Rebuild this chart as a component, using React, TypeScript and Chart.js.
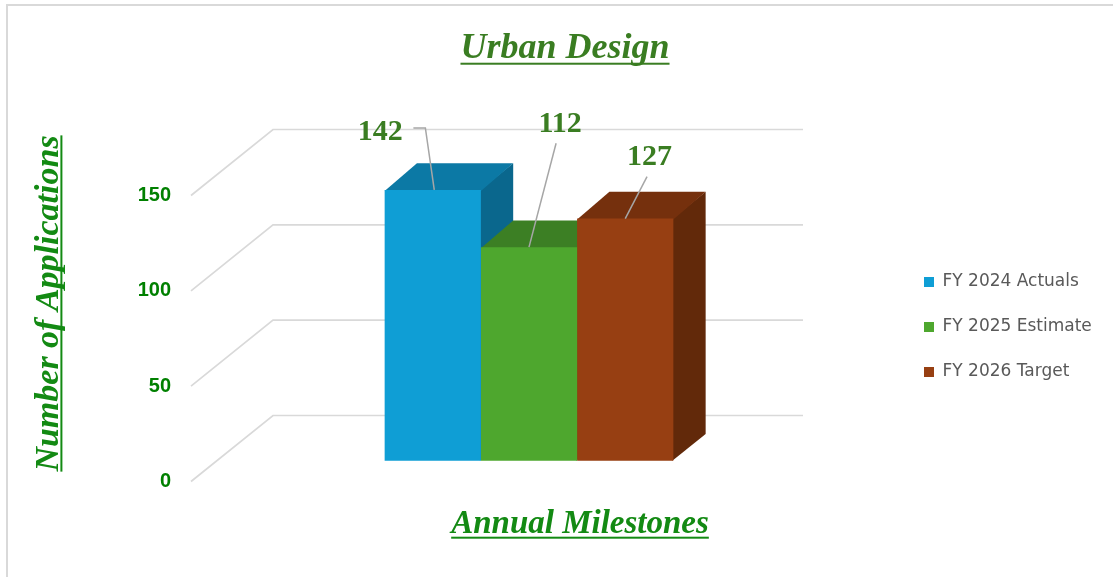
import React, { useEffect, useRef } from 'react';
import { Chart, registerables } from 'chart.js';

Chart.register(...registerables);

// ---------------- data ----------------
const categories = ['Urban Design'];
const seriesLabels = ['FY 2024 Actuals', 'FY 2025 Estimate', 'FY 2026 Target'];
const seriesValues = [142, 112, 127];
const yTickValues = [0, 50, 100, 150];
const chartTitle = 'Urban Design';
const xAxisTitle = 'Annual Milestones';
const yAxisTitle = 'Number of Applications';

// ---------------- styles ----------------
const frontColors = ['#0F9ED5', '#4EA72E', '#973F12'];
const topColors = ['#0C79A5', '#3C7F24', '#75300D'];
const sideColors = ['#0A678D', '#35701F', '#62290A'];
const TITLE_COLOR = '#3A7D22';
const AXIS_TITLE_COLOR = '#138A13';
const TICK_COLOR = '#008000';
const LABEL_COLOR = '#3A7D22';
const GRID_COLOR = '#D9D9D9';
const LEADER_COLOR = '#A6A6A6';
const SERIF = '"Liberation Serif", "Times New Roman", serif';
const SANS = '"Liberation Sans", Arial, sans-serif';
const LEGEND_FONT = '"DejaVu Sans", sans-serif';

const W = 1113;
const H = 577;

// layout geometry
const PLOT_TOP = 120;
const PLOT_BOTTOM = 487;
const PLOT_LEFT = 162;
const PLOT_RIGHT = 896;
const TICK_LABEL_RIGHT = 171;
const PX_PER_UNIT = 1.9067;
const BAR_ZERO_Y = 460.7;
const SIDE_ZERO_Y = 481.5;
const DEPTH = { dx: 32.3, dy: -26.7 };
const WALL = { backLeftInset: 111, backRightInset: 93, floorDx: -82, floorDy: 66 };
const CAT_PCT = 288.7 / (PLOT_RIGHT - PLOT_LEFT);

const TITLE_SIZE = 36;
const TITLE_PAD_TOP = 27.5;
const TITLE_LH = TITLE_SIZE * 1.2;
const TITLE_PAD_BOTTOM = PLOT_TOP - TITLE_PAD_TOP - TITLE_LH;
const TITLE_CX = 565;

const XT_SIZE = 33;
const XT_LH = XT_SIZE * 1.2;
const XT_PAD_BOTTOM = 33;
const XT_CX = 580;

const YT_SIZE = 34;
const YT_LH = YT_SIZE * 1.2;
const YT_PAD_TOP = 28.5;

const LEGEND_SIZE = 17;
const LEGEND_PAD = 28;
const LEGEND_BOX = 10;
const LEGEND_SHIFT = 23.5;

// data label placement relative to the top-front centre of each bar
const labelPlacement = [
  { tx: -52.4, ty: -50, leader: [[-19.4, -62], [-7.4, -62], [1.5, 0]] },
  { tx: 31.1, ty: -115.5, leader: [[27.1, -103.9], [0, 0]] },
  { tx: 24.3, ty: -53.6, leader: [[21.8, -41.9], [0, 0]] },
];

const barMin = -(PLOT_BOTTOM - BAR_ZERO_Y) / PX_PER_UNIT;
const barMax = barMin + (PLOT_BOTTOM - PLOT_TOP) / PX_PER_UNIT;
const tickMin = -(PLOT_BOTTOM - SIDE_ZERO_Y) / PX_PER_UNIT;
const tickMax = tickMin + (PLOT_BOTTOM - PLOT_TOP) / PX_PER_UNIT;

function baselineFromMiddle(ctx: CanvasRenderingContext2D, font: string) {
  ctx.save();
  ctx.font = font;
  ctx.textBaseline = 'middle';
  const m = ctx.measureText('H');
  ctx.restore();
  return m.actualBoundingBoxDescent;
}

const layoutTweaks = {
  id: 'layoutTweaks',
  afterLayout(chart: any) {
    const tb = chart.titleBlock;
    if (tb) {
      const s = TITLE_CX - (tb.left + tb.right) / 2;
      tb.left += s;
      tb.right += s;
    }
    const xs = chart.scales.x;
    const s2 = XT_CX - (xs.left + xs.right) / 2;
    xs.left += s2;
    xs.right += s2;
    const ys = chart.scales.yTicks;
    ys.right = TICK_LABEL_RIGHT;
    const lg = chart.legend;
    if (lg) {
      lg.top += LEGEND_SHIFT;
      lg.bottom += LEGEND_SHIFT;
    }
  },
};

const bars3d = {
  id: 'bars3d',
  beforeDatasetsDraw(chart: any) {
    const { ctx, chartArea } = chart;
    const ys = chart.scales.yTicks;
    ctx.save();
    ctx.strokeStyle = GRID_COLOR;
    ctx.lineWidth = 1.7;
    const backLeft = chartArea.left + WALL.backLeftInset;
    const backRight = chartArea.right - WALL.backRightInset;
    yTickValues.forEach((v) => {
      const yf = ys.getPixelForValue(v);
      const yb = yf - WALL.floorDy;
      ctx.beginPath();
      ctx.moveTo(backLeft + WALL.floorDx, yf);
      ctx.lineTo(backLeft, yb);
      ctx.lineTo(backRight, yb);
      ctx.stroke();
    });
    chart.data.datasets.forEach((_ds: any, i: number) => {
      const meta = chart.getDatasetMeta(i);
      meta.data.forEach((bar: any) => {
        const { x, y, base, width } = bar.getProps(['x', 'y', 'base', 'width'], true);
        const l = x - width / 2;
        const r = x + width / 2;
        ctx.fillStyle = sideColors[i];
        ctx.beginPath();
        ctx.moveTo(r - 1, y);
        ctx.lineTo(r + DEPTH.dx, y + DEPTH.dy);
        ctx.lineTo(r + DEPTH.dx, base + DEPTH.dy);
        ctx.lineTo(r - 1, base);
        ctx.closePath();
        ctx.fill();
        ctx.fillStyle = topColors[i];
        ctx.beginPath();
        ctx.moveTo(l, y + 1);
        ctx.lineTo(r, y + 1);
        ctx.lineTo(r + DEPTH.dx, y + DEPTH.dy);
        ctx.lineTo(l + DEPTH.dx, y + DEPTH.dy);
        ctx.closePath();
        ctx.fill();
      });
    });
    ctx.restore();
  },
  afterDatasetsDraw(chart: any) {
    const { ctx } = chart;
    ctx.save();
    chart.data.datasets.forEach((ds: any, i: number) => {
      const meta = chart.getDatasetMeta(i);
      const p = labelPlacement[i];
      meta.data.forEach((bar: any, j: number) => {
        const { x, y } = bar.getProps(['x', 'y'], true);
        ctx.strokeStyle = LEADER_COLOR;
        ctx.lineWidth = 1.5;
        ctx.beginPath();
        p.leader.forEach((pt, k) => {
          if (k === 0) ctx.moveTo(x + pt[0], y + pt[1]);
          else ctx.lineTo(x + pt[0], y + pt[1]);
        });
        ctx.stroke();
        ctx.fillStyle = LABEL_COLOR;
        ctx.font = `bold 30px ${SERIF}`;
        ctx.textAlign = 'center';
        ctx.textBaseline = 'alphabetic';
        ctx.fillText(String(ds.data[j]), x + p.tx, y + p.ty);
      });
    });
    ctx.restore();
  },
};

const underlines = {
  id: 'underlines',
  afterDraw(chart: any) {
    const { ctx } = chart;
    ctx.save();
    // chart title
    const tb = chart.titleBlock;
    if (tb) {
      const font = `italic bold ${TITLE_SIZE}px ${SERIF}`;
      ctx.font = font;
      const w = ctx.measureText(chartTitle).width;
      const cx = (tb.left + tb.right) / 2;
      const mid = tb.top + TITLE_PAD_TOP + TITLE_LH / 2;
      const uy = mid + baselineFromMiddle(ctx, font) + TITLE_SIZE * 0.12;
      ctx.fillStyle = TITLE_COLOR;
      ctx.fillRect(cx - w / 2, uy, w, 2);
    }
    // x title
    {
      const xs = chart.scales.x;
      const font = `italic bold ${XT_SIZE}px ${SERIF}`;
      ctx.font = font;
      const w = ctx.measureText(xAxisTitle).width;
      const cx = (xs.left + xs.right) / 2;
      const mid = xs.bottom - (XT_LH / 2 + XT_PAD_BOTTOM);
      const uy = mid + baselineFromMiddle(ctx, font) + XT_SIZE * 0.12;
      ctx.fillStyle = AXIS_TITLE_COLOR;
      ctx.fillRect(cx - w / 2, uy, w, 2);
    }
    // y title
    {
      const ys = chart.scales.yTicks;
      const font = `italic bold ${YT_SIZE}px ${SERIF}`;
      ctx.font = font;
      const w = ctx.measureText(yAxisTitle).width;
      const cy = (ys.top + ys.bottom) / 2;
      const mid = ys.left + YT_PAD_TOP + YT_LH / 2;
      const ux = mid + baselineFromMiddle(ctx, font) + YT_SIZE * 0.08;
      ctx.fillStyle = AXIS_TITLE_COLOR;
      ctx.fillRect(ux, cy - w / 2, 2, w);
    }
    ctx.restore();
  },
};

export default function App() {
  const ref = useRef<HTMLCanvasElement>(null);

  useEffect(() => {
    const canvas = ref.current;
    if (!canvas) return;

    // legend width, so the plot area ends where the legend starts
    const mctx = document.createElement('canvas').getContext('2d')!;
    mctx.font = `normal ${LEGEND_SIZE}px ${LEGEND_FONT}`;
    const maxTextW = Math.max(...seriesLabels.map((s) => mctx.measureText(s).width));
    const legendWidth = LEGEND_PAD + LEGEND_BOX + LEGEND_SIZE / 2 + maxTextW + 10;
    const padRight = W - PLOT_RIGHT - legendWidth;

    const chart = new Chart(canvas, {
      type: 'bar',
      data: {
        labels: categories,
        datasets: seriesLabels.map((label, i) => ({
          label,
          data: [seriesValues[i]],
          backgroundColor: frontColors[i],
          borderWidth: 0,
          xAxisID: 'x',
          yAxisID: 'y',
          categoryPercentage: CAT_PCT,
          barPercentage: 1,
        })),
      },
      options: {
        responsive: false,
        maintainAspectRatio: false,
        devicePixelRatio: 1,
        animation: false,
        events: [],
        layout: { padding: { left: 0, top: 0, bottom: 0, right: padRight } },
        scales: {
          x: {
            type: 'category',
            offset: true,
            grid: { display: false, drawTicks: false },
            border: { display: false },
            ticks: { display: false },
            title: {
              display: true,
              text: xAxisTitle,
              color: AXIS_TITLE_COLOR,
              font: { family: SERIF, size: XT_SIZE, weight: 'bold', style: 'italic', lineHeight: 1.2 },
              padding: { top: 0, bottom: XT_PAD_BOTTOM },
            },
            afterFit: (s: any) => {
              s.height = H - PLOT_BOTTOM;
            },
          },
          y: {
            type: 'linear',
            display: false,
            min: barMin,
            max: barMax,
          },
          yTicks: {
            type: 'linear',
            position: 'left',
            min: tickMin,
            max: tickMax,
            grid: { display: false, drawTicks: false },
            border: { display: false },
            afterBuildTicks: (s: any) => {
              s.ticks = yTickValues.map((v) => ({ value: v }));
            },
            ticks: {
              color: TICK_COLOR,
              padding: 0,
              font: { family: SANS, size: 20, weight: 'bold' },
            },
            title: {
              display: true,
              text: yAxisTitle,
              color: AXIS_TITLE_COLOR,
              font: { family: SERIF, size: YT_SIZE, weight: 'bold', style: 'italic', lineHeight: 1.2 },
              padding: { top: YT_PAD_TOP, bottom: 0 },
            },
            afterFit: (s: any) => {
              s.width = PLOT_LEFT;
            },
          },
        },
        plugins: {
          title: {
            display: true,
            text: chartTitle,
            color: TITLE_COLOR,
            font: { family: SERIF, size: TITLE_SIZE, weight: 'bold', style: 'italic', lineHeight: 1.2 },
            padding: { top: TITLE_PAD_TOP, bottom: TITLE_PAD_BOTTOM },
          },
          legend: {
            display: true,
            position: 'right',
            fullSize: false,
            align: 'center',
            labels: {
              boxWidth: LEGEND_BOX,
              boxHeight: LEGEND_BOX,
              padding: LEGEND_PAD,
              color: '#595959',
              font: { family: LEGEND_FONT, size: LEGEND_SIZE },
            },
          },
          tooltip: { enabled: false },
        },
      } as any,
      plugins: [layoutTweaks, bars3d, underlines],
    });

    return () => {
      chart.destroy();
    };
  }, []);

  return (
    <div
      style={{
        position: 'fixed',
        left: 0,
        top: 0,
        width: W,
        height: H,
        background: '#ffffff',
        overflow: 'hidden',
      }}
    >
      <div
        style={{
          position: 'absolute',
          left: 6,
          top: 4,
          width: 1200,
          height: 700,
          border: '2px solid #D9D9D9',
          boxSizing: 'border-box',
        }}
      />
      <canvas
        ref={ref}
        width={W}
        height={H}
        style={{ position: 'absolute', left: 0, top: 0, width: W, height: H }}
      />
    </div>
  );
}
